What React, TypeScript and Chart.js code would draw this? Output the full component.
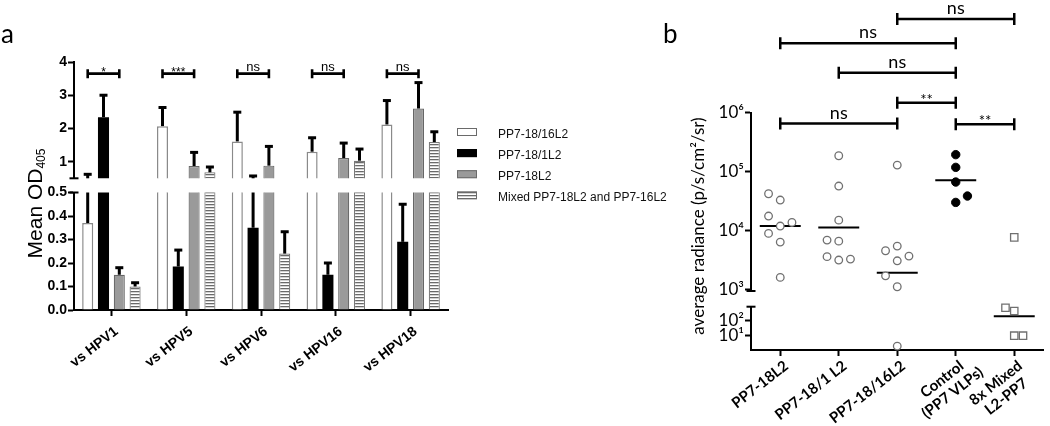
import React, { useEffect, useRef } from 'react';
import { Chart, registerables } from 'chart.js';

Chart.register(...registerables);

const W = 1050;
const H = 426;

// ---------------- Panel a data ----------------
const hpvTargets = ['vs HPV1', 'vs HPV5', 'vs HPV6', 'vs HPV16', 'vs HPV18'];
const vlpNames = ['PP7-18/16L2', 'PP7-18/1L2', 'PP7-18L2', 'Mixed PP7-18L2 and PP7-16L2'];
const od1816 = [0.37, 2.07, 1.61, 1.30, 2.12];
const od181 = [2.34, 0.185, 0.35, 0.15, 0.29];
const od18 = [0.15, 0.87, 0.88, 1.11, 2.60];
const odMixed = [0.10, 0.68, 0.24, 1.03, 1.59];
const sd1816 = [0.25, 0.56, 0.88, 0.42, 0.72];
const sd181 = [0.66, 0.07, 0.22, 0.05, 0.16];
const sd18 = [0.03, 0.41, 0.58, 0.45, 0.78];
const sdMixed = [0.016, 0.16, 0.093, 0.35, 0.31];
const sigA = ['*', '***', 'ns', 'ns', 'ns'];
const upperTicksA = [1, 2, 3, 4];
const lowerTicksA = [0, 0.1, 0.2, 0.3, 0.4, 0.5];

// ---------------- Panel b data ----------------
const mouseGroups: (string | string[])[] = [
  'PP7-18L2',
  'PP7-18/1 L2',
  'PP7-18/16L2',
  ['Control', '(PP7 VLPs)'],
  ['8x Mixed', 'L2-PP7'],
];
const radPP718L2 = [42100, 32900, 17600, 13700, 11900, 8930, 6360, 1600];
const radPP7181L2 = [186000, 56900, 15000, 6870, 6600, 3600, 3150, 3270];
const radPP71816L2 = [129000, 5440, 4530, 3680, 3060, 1700, 1110, 2];
const radControl = [194000, 118000, 66500, 38500, 30000];
const radMixed = [7640, 735, 443, 10, 10];
const meanRad = [11900, 11300, 1910, 71100, 196];
// dot-plot column offsets (fraction of a category)
const colPP718L2 = [-0.2, 0, -0.2, 0.2, 0, -0.2, 0, 0];
const colPP7181L2 = [0, 0, 0, -0.2, 0, -0.2, 0, 0.2];
const colPP71816L2 = [0, 0, -0.2, 0.2, 0, -0.2, 0, 0];
const colControl = [0, 0, 0, 0.2, 0];
const colMixed = [0, -0.15, 0, 0, 0.15];
const sigBFrom = [1, 3, 4, 2, 1, 3];
const sigBTo = [3, 4, 5, 4, 4, 5];
const sigBLabel = ['ns', '**', '**', 'ns', 'ns', 'ns'];
const upperTicksB = [1e3, 1e4, 1e5, 1e6];
const lowerTicksB = [10, 100];

// ---------------- layout / style constants ----------------
const FONT_A = "'Liberation Sans', Arial, sans-serif";
const FONT_B = "Lato, 'Liberation Sans', sans-serif";
const bracketRowsB = [123.5, 102.7, 124.3, 72.7, 43.3, 19];
const bracketLevelA = 3.65;
const LABEL_ANGLE = (38 * Math.PI) / 180;

const odSeries = [od1816, od181, od18, odMixed];
const sdSeries = [sd1816, sd181, sd18, sdMixed];
const radSeries = [radPP718L2, radPP7181L2, radPP71816L2, radControl, radMixed];
const colSeries = [colPP718L2, colPP7181L2, colPP71816L2, colControl, colMixed];

const barFills = ['#ffffff', '#000000', '#9a9a9a', 'stripe'];
const barBorders = ['#8a8a8a', '#000000', '#666666', '#7a7a7a'];
const barBorderWidths = [1.5, 0, 1.2, 1.2];

const SUP: Record<string, string> = { '0': '⁰', '1': '¹', '2': '²', '3': '³', '4': '⁴', '5': '⁵', '6': '⁶' };
const powLabel = (v: number) => '10' + String(Math.round(Math.log10(v))).split('').map((c) => SUP[c]).join('');

function makeStripe(): CanvasPattern | string {
  const c = document.createElement('canvas');
  c.width = 4;
  c.height = 3;
  const g = c.getContext('2d');
  if (!g) return '#ccc';
  g.fillStyle = '#ffffff';
  g.fillRect(0, 0, 4, 3);
  g.fillStyle = '#6a6a6a';
  g.fillRect(0, 0, 4, 1.3);
  return g.createPattern(c, 'repeat') || '#ccc';
}

function centerText(ctx: CanvasRenderingContext2D, text: string, x: number, cy: number) {
  const m = ctx.measureText(text);
  const asc = m.actualBoundingBoxAscent;
  const desc = m.actualBoundingBoxDescent;
  ctx.textAlign = 'center';
  ctx.textBaseline = 'alphabetic';
  ctx.fillText(text, x, cy + (asc - desc) / 2);
}

function breakCap(ctx: CanvasRenderingContext2D, x: number, y: number) {
  ctx.save();
  ctx.strokeStyle = '#000';
  ctx.lineWidth = 2;
  ctx.beginPath();
  ctx.moveTo(x - 4.5, y);
  ctx.lineTo(x + 4.5, y);
  ctx.stroke();
  ctx.restore();
}

// rotated category labels: first line ends at the tick, further lines centred on the first
function drawRotatedLabels(chart: any, labels: (string | string[])[], pixelFor: (i: number) => number, font: string, lh: number, dx: number, dy: number) {
  const ctx: CanvasRenderingContext2D = chart.ctx;
  const axisY = chart.chartArea.bottom;
  ctx.save();
  ctx.font = font;
  ctx.fillStyle = '#000';
  ctx.textBaseline = 'middle';
  ctx.textAlign = 'center';
  labels.forEach((lab, i) => {
    const lines = Array.isArray(lab) ? lab : [lab];
    const w1 = ctx.measureText(lines[0]).width;
    ctx.save();
    ctx.translate(pixelFor(i) + dx, axisY + dy);
    ctx.rotate(-LABEL_ANGLE);
    lines.forEach((ln, k) => ctx.fillText(ln, -w1 / 2, k * lh));
    ctx.restore();
  });
  ctx.restore();
}

function drawErrorBars(chart: any) {
  const ctx: CanvasRenderingContext2D = chart.ctx;
  const ys = chart.scales.y;
  const yMin = ys.min;
  const yMax = ys.max;
  ctx.save();
  ctx.strokeStyle = '#000';
  ctx.lineWidth = 3;
  odSeries.forEach((vals, di) => {
    const meta = chart.getDatasetMeta(di);
    vals.forEach((v, i) => {
      const hi = v + sdSeries[di][i];
      const lo = Math.max(v, yMin);
      if (hi <= yMin || lo >= yMax) return;
      const x = meta.data[i].x;
      const y0 = ys.getPixelForValue(lo);
      const y1 = ys.getPixelForValue(Math.min(hi, yMax));
      ctx.beginPath();
      ctx.moveTo(x, y0);
      ctx.lineTo(x, y1);
      ctx.stroke();
      if (hi <= yMax) {
        ctx.beginPath();
        ctx.moveTo(x - 4, y1);
        ctx.lineTo(x + 4, y1);
        ctx.stroke();
      }
    });
  });
  ctx.restore();
}

function barDatasets(stripe: CanvasPattern | string) {
  return odSeries.map((vals, i) => ({
    label: vlpNames[i],
    data: vals,
    backgroundColor: barFills[i] === 'stripe' ? stripe : barFills[i],
    borderColor: barBorders[i],
    borderWidth: barBorderWidths[i],
    borderSkipped: 'start' as const,
    clip: 0,
    categoryPercentage: 0.845,
    barPercentage: 0.7,
  }));
}

const axisGrid = { display: true, drawOnChartArea: false, drawTicks: true, tickLength: 6, tickWidth: 2, tickColor: '#000', color: '#000' };
const axisBorder = { display: true, color: '#000', width: 2 };

function cfgATop(stripe: CanvasPattern | string): any {
  return {
    type: 'bar',
    data: { labels: hpvTargets, datasets: barDatasets(stripe) },
    options: {
      responsive: false,
      animation: false,
      events: [],
      layout: { padding: { left: 34, right: W - 448, top: 62, bottom: H - 178.3 } },
      plugins: { legend: { display: false }, tooltip: { enabled: false } },
      scales: {
        x: { type: 'category', display: false, offset: true },
        y: {
          min: 0.5,
          max: 4,
          afterFit: (s: any) => { s.width = 40; },
          afterBuildTicks: (s: any) => { s.ticks = upperTicksA.map((v) => ({ value: v })); },
          ticks: { color: '#000', padding: 1, font: { family: FONT_A, size: 14, weight: 'bold' }, callback: (v: number) => String(v) },
          grid: axisGrid,
          border: axisBorder,
        },
      },
    },
    plugins: [
      {
        id: 'decorATop',
        afterDatasetsDraw(chart: any) {
          drawErrorBars(chart);
          const ctx: CanvasRenderingContext2D = chart.ctx;
          const ys = chart.scales.y;
          const m0 = chart.getDatasetMeta(0);
          const m2 = chart.getDatasetMeta(2);
          const by = ys.getPixelForValue(bracketLevelA);
          ctx.save();
          ctx.strokeStyle = '#000';
          ctx.fillStyle = '#000';
          ctx.lineWidth = 2.6;
          sigA.forEach((s, i) => {
            const x1 = m0.data[i].x;
            const x2 = m2.data[i].x;
            ctx.beginPath();
            ctx.moveTo(x1, by);
            ctx.lineTo(x2, by);
            ctx.moveTo(x1, by - 4.5);
            ctx.lineTo(x1, by + 4.5);
            ctx.moveTo(x2, by - 4.5);
            ctx.lineTo(x2, by + 4.5);
            ctx.stroke();
            ctx.font = s === 'ns' ? `13px ${FONT_A}` : `12px ${FONT_A}`;
            centerText(ctx, s, (x1 + x2) / 2, by - (s === 'ns' ? 6.3 : 4.4));
          });
          ctx.restore();
        },
        afterDraw(chart: any) {
          const ctx: CanvasRenderingContext2D = chart.ctx;
          const ca = chart.chartArea;
          breakCap(ctx, ca.left, ca.bottom);
          ctx.save();
          // panel letter
          ctx.fillStyle = '#000';
          ctx.font = `26px ${FONT_B}`;
          ctx.textAlign = 'left';
          ctx.textBaseline = 'alphabetic';
          ctx.fillText('a', 1, 43.3);
          // y title with subscript
          ctx.save();
          ctx.translate(41.7, 203.5);
          ctx.rotate(-Math.PI / 2);
          ctx.font = `21px ${FONT_A}`;
          const main = 'Mean OD';
          const w1 = ctx.measureText(main).width;
          ctx.font = `12px ${FONT_A}`;
          const w2 = ctx.measureText('405').width;
          const x0 = -(w1 + w2) / 2;
          ctx.font = `21px ${FONT_A}`;
          ctx.fillText(main, x0, 0);
          ctx.font = `12px ${FONT_A}`;
          ctx.fillText('405', x0 + w1, 3.3);
          ctx.restore();
          // legend
          chart.data.datasets.forEach((ds: any, i: number) => {
            const sy = ca.top + 70 + i * 21.1;
            const lx = ca.right + 9;
            ctx.fillStyle = ds.backgroundColor;
            ctx.fillRect(lx, sy - 4, 20, 8);
            ctx.strokeStyle = i === 1 ? '#000' : '#6a6a6a';
            ctx.lineWidth = 1;
            ctx.strokeRect(lx + 0.5, sy - 3.5, 19, 7);
            ctx.fillStyle = '#111';
            ctx.font = `12px ${FONT_A}`;
            ctx.textAlign = 'left';
            ctx.textBaseline = 'middle';
            ctx.fillText(ds.label, ca.right + 50, sy + 2.5);
          });
          ctx.restore();
        },
      },
    ],
  };
}

function cfgABot(stripe: CanvasPattern | string): any {
  return {
    type: 'bar',
    data: { labels: hpvTargets, datasets: barDatasets(stripe) },
    options: {
      responsive: false,
      animation: false,
      events: [],
      layout: { padding: { left: 34, right: W - 448, top: 192.5, bottom: 46 } },
      plugins: { legend: { display: false }, tooltip: { enabled: false } },
      scales: {
        x: {
          type: 'category',
          offset: true,
          afterFit: (s: any) => { s.height = 70; },
          ticks: { display: false },
          grid: { ...axisGrid, offset: false },
          border: axisBorder,
        },
        y: {
          min: 0,
          max: 0.5,
          afterFit: (s: any) => { s.width = 40; },
          afterBuildTicks: (s: any) => { s.ticks = lowerTicksA.map((v) => ({ value: v })); },
          ticks: { color: '#000', padding: 1, font: { family: FONT_A, size: 14, weight: 'bold' }, callback: (v: number) => v.toFixed(1) },
          grid: axisGrid,
          border: axisBorder,
        },
      },
    },
    plugins: [
      {
        id: 'decorABot',
        afterDatasetsDraw(chart: any) {
          drawErrorBars(chart);
        },
        afterDraw(chart: any) {
          breakCap(chart.ctx, chart.chartArea.left, chart.chartArea.top);
          const xs = chart.scales.x;
          drawRotatedLabels(chart, hpvTargets, (i) => xs.getPixelForValue(i), `bold 14px ${FONT_A}`, 16, 5, 20);
        },
      },
    ],
  };
}

const markerStyles = [
  { pointStyle: 'circle', pointRadius: 3.8, pointBorderWidth: 1.3, pointBorderColor: '#707070', pointBackgroundColor: '#ffffff' },
  { pointStyle: 'circle', pointRadius: 3.8, pointBorderWidth: 1.3, pointBorderColor: '#707070', pointBackgroundColor: '#ffffff' },
  { pointStyle: 'circle', pointRadius: 3.8, pointBorderWidth: 1.3, pointBorderColor: '#707070', pointBackgroundColor: '#ffffff' },
  { pointStyle: 'circle', pointRadius: 4.2, pointBorderWidth: 1, pointBorderColor: '#000000', pointBackgroundColor: '#000000' },
  { pointStyle: 'rect', pointRadius: 5.2, pointBorderWidth: 1.3, pointBorderColor: '#707070', pointBackgroundColor: '#ffffff' },
];

const SPLIT_B = 940;

function scatterDatasets(lower: boolean) {
  return radSeries.map((vals, g) => ({
    label: typeof mouseGroups[g] === 'string' ? (mouseGroups[g] as string) : (mouseGroups[g] as string[]).join(' '),
    data: vals
      .map((v, k) => ({ x: g + 1 + colSeries[g][k], y: v }))
      .filter((p) => (lower ? p.y < SPLIT_B : p.y >= SPLIT_B)),
    ...markerStyles[g],
    pointHoverRadius: markerStyles[g].pointRadius,
    clip: false,
  }));
}

function drawMeans(chart: any) {
  const ctx: CanvasRenderingContext2D = chart.ctx;
  const xs = chart.scales.x;
  const ys = chart.scales.y;
  ctx.save();
  ctx.strokeStyle = '#000';
  ctx.lineWidth = 2;
  meanRad.forEach((m, g) => {
    if (m < ys.min || m > ys.max) return;
    const y = ys.getPixelForValue(m);
    ctx.beginPath();
    ctx.moveTo(xs.getPixelForValue(g + 1 - 0.35), y);
    ctx.lineTo(xs.getPixelForValue(g + 1 + 0.35), y);
    ctx.stroke();
  });
  ctx.restore();
}

function cfgBTop(): any {
  return {
    type: 'scatter',
    data: { datasets: scatterDatasets(false) },
    options: {
      responsive: false,
      animation: false,
      events: [],
      layout: { padding: { left: 691, right: W - 1046, top: 112.7, bottom: H - 291 } },
      plugins: { legend: { display: false }, tooltip: { enabled: false } },
      scales: {
        x: { type: 'linear', min: 0.5, max: 5.5, display: false },
        y: {
          type: 'logarithmic',
          min: SPLIT_B,
          max: 1e6,
          afterFit: (s: any) => { s.width = 60; },
          afterBuildTicks: (s: any) => { s.ticks = upperTicksB.map((v) => ({ value: v })); },
          ticks: { color: '#000', padding: 1, font: { family: FONT_B, size: 17 }, callback: (v: number) => powLabel(v) },
          grid: axisGrid,
          border: axisBorder,
        },
      },
    },
    plugins: [
      {
        id: 'decorBTop',
        beforeDatasetsDraw(chart: any) {
          drawMeans(chart);
        },
        afterDraw(chart: any) {
          const ctx: CanvasRenderingContext2D = chart.ctx;
          const ca = chart.chartArea;
          const xs = chart.scales.x;
          breakCap(ctx, ca.left, ca.bottom);
          ctx.save();
          ctx.fillStyle = '#000';
          ctx.strokeStyle = '#000';
          // brackets
          ctx.lineWidth = 2.5;
          sigBLabel.forEach((lab, i) => {
            const x1 = xs.getPixelForValue(sigBFrom[i]);
            const x2 = xs.getPixelForValue(sigBTo[i]);
            const by = bracketRowsB[i];
            ctx.beginPath();
            ctx.moveTo(x1, by);
            ctx.lineTo(x2, by);
            ctx.moveTo(x1, by - 6);
            ctx.lineTo(x1, by + 6);
            ctx.moveTo(x2, by - 6);
            ctx.lineTo(x2, by + 6);
            ctx.stroke();
            ctx.font = lab === 'ns' ? `18px ${FONT_B}` : `15px ${FONT_B}`;
            centerText(ctx, lab, (x1 + x2) / 2, by - (lab === 'ns' ? 9.5 : 6.4));
          });
          // panel letter
          ctx.font = `26px ${FONT_B}`;
          ctx.textAlign = 'left';
          ctx.textBaseline = 'alphabetic';
          ctx.fillText('b', 663, 43.3);
          // y title
          ctx.translate(704, 226);
          ctx.rotate(-Math.PI / 2);
          ctx.font = `17px ${FONT_B}`;
          ctx.textAlign = 'center';
          ctx.fillText('average radiance (p/s/cm²/sr)', 0, 0);
          ctx.restore();
        },
      },
    ],
  };
}

function cfgBBot(): any {
  return {
    type: 'scatter',
    data: { datasets: scatterDatasets(true) },
    options: {
      responsive: false,
      animation: false,
      events: [],
      layout: { padding: { left: 691, right: W - 1046, top: 306.7, bottom: 0 } },
      plugins: { legend: { display: false }, tooltip: { enabled: false } },
      scales: {
        x: {
          type: 'linear',
          min: 0.5,
          max: 5.5,
          afterFit: (s: any) => { s.height = 76; },
          afterBuildTicks: (s: any) => { s.ticks = mouseGroups.map((_, i) => ({ value: i + 1 })); },
          ticks: { display: false },
          grid: axisGrid,
          border: axisBorder,
        },
        y: {
          type: 'logarithmic',
          min: 1.1,
          max: 860,
          afterFit: (s: any) => { s.width = 60; },
          afterBuildTicks: (s: any) => { s.ticks = lowerTicksB.map((v) => ({ value: v })); },
          ticks: { color: '#000', padding: 1, font: { family: FONT_B, size: 17 }, callback: (v: number) => powLabel(v) },
          grid: axisGrid,
          border: axisBorder,
        },
      },
    },
    plugins: [
      {
        id: 'decorBBot',
        beforeDatasetsDraw(chart: any) {
          drawMeans(chart);
        },
        afterDraw(chart: any) {
          breakCap(chart.ctx, chart.chartArea.left, chart.chartArea.top);
          const xs = chart.scales.x;
          drawRotatedLabels(chart, mouseGroups, (i) => xs.getPixelForValue(i + 1), `bold 15px ${FONT_B}`, 17, 6, 14);
        },
      },
    ],
  };
}

export default function App() {
  const aTop = useRef<HTMLCanvasElement>(null);
  const aBot = useRef<HTMLCanvasElement>(null);
  const bTop = useRef<HTMLCanvasElement>(null);
  const bBot = useRef<HTMLCanvasElement>(null);

  useEffect(() => {
    const stripe = makeStripe();
    const charts = [
      new Chart(aTop.current as HTMLCanvasElement, cfgATop(stripe)),
      new Chart(aBot.current as HTMLCanvasElement, cfgABot(stripe)),
      new Chart(bTop.current as HTMLCanvasElement, cfgBTop()),
      new Chart(bBot.current as HTMLCanvasElement, cfgBBot()),
    ];
    return () => charts.forEach((c) => c.destroy());
  }, []);

  const cs: React.CSSProperties = { position: 'absolute', left: 0, top: 0, width: W, height: H };
  return (
    <div style={{ position: 'absolute', left: 0, top: 0, width: W, height: H, background: '#ffffff', overflow: 'hidden' }}>
      <canvas ref={aTop} width={W} height={H} style={cs} />
      <canvas ref={aBot} width={W} height={H} style={cs} />
      <canvas ref={bTop} width={W} height={H} style={cs} />
      <canvas ref={bBot} width={W} height={H} style={cs} />
    </div>
  );
}
